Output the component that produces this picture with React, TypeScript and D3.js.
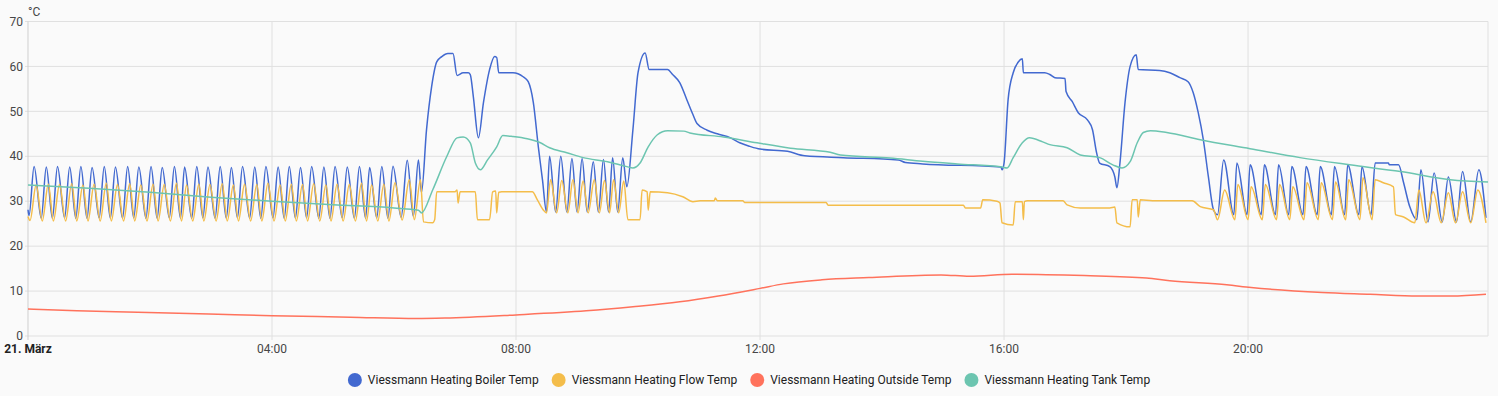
import React, { useRef, useEffect } from 'react';
import * as d3 from 'd3';

type Point = [number, number]; // [minutes since 00:00, °C]

// Viessmann Heating, 21. März
const boilerTemp: Point[] = [
  [0, 28.1], [1, 26.8], [6, 37.7], [13, 26.2], [18, 37.6], [24, 26.2], [29, 37.7], [36, 26.3], [41, 37.6], [47, 26.2],
  [52, 37.7], [58, 26.2], [63, 37.5], [70, 26.3], [75, 37.7], [81, 26.2], [86, 37.6], [93, 26.2], [98, 37.7], [104, 26.3],
  [109, 37.6], [116, 26.2], [121, 37.7], [127, 26.2], [132, 37.5], [139, 26.3], [144, 37.7], [150, 26.2], [154, 37.6], [161, 26.2],
  [166, 37.7], [172, 26.3], [177, 37.6], [184, 26.2], [189, 37.7], [195, 26.2], [200, 37.5], [206, 26.3], [211, 37.7], [218, 26.2],
  [223, 37.6], [229, 26.2], [234, 37.7], [241, 26.3], [246, 37.6], [252, 26.2], [257, 37.7], [263, 26.2], [268, 37.5], [274, 26.3],
  [279, 37.7], [286, 26.2], [291, 37.6], [297, 26.2], [302, 37.7], [309, 26.3], [314, 37.6], [321, 26.2], [326, 37.7], [332, 26.2],
  [336, 37.5], [343, 26.3], [348, 37.7], [354, 26.2], [359, 37.8], [367, 26.4], [373, 39.1], [379, 26.6], [384, 39.2], [387, 31.9],
  [392, 46.0], [397, 55.5], [402, 61.0], [407, 62.2], [413, 62.9], [418, 62.9], [422, 58.0], [428, 58.6], [433, 58.6], [435, 58.2],
  [438, 53.3], [443, 44.1], [448, 52.0], [454, 59.3], [459, 62.2], [461, 62.0], [463, 58.6], [477, 58.6], [487, 57.7], [492, 56.6],
  [497, 52.0], [502, 42.0], [506, 34.8], [510, 27.6], [513, 40.0], [519, 27.6], [524, 40.0], [530, 27.6], [535, 39.5], [540, 27.6],
  [545, 39.5], [550, 27.6], [556, 38.8], [561, 27.6], [566, 39.3], [571, 27.6], [575, 39.7], [580, 27.6], [585, 39.7], [589, 33.2],
  [595, 46.0], [600, 58.6], [607, 63.0], [611, 59.3], [629, 59.3], [634, 58.2], [641, 56.4], [648, 52.6], [654, 49.3], [658, 47.3],
  [668, 45.8], [678, 45.0], [691, 44.1], [700, 43.0], [710, 42.2], [720, 41.6], [747, 41.1], [764, 40.1], [802, 39.7], [856, 39.2],
  [863, 38.6], [880, 38.3], [957, 37.6], [958, 37.0], [960, 38.5], [964, 52.6], [969, 58.6], [974, 61.0], [978, 61.7], [979, 58.6],
  [1000, 58.6], [1005, 58.2], [1010, 57.5], [1020, 57.3], [1021, 54.4], [1027, 52.2], [1033, 49.7], [1042, 48.1], [1047, 45.9], [1051, 40.8],
  [1054, 38.5], [1064, 37.7], [1069, 35.4], [1071, 33.0], [1074, 38.5], [1079, 52.0], [1084, 60.0], [1090, 62.6], [1092, 59.3], [1113, 59.1],
  [1123, 58.6], [1133, 57.5], [1141, 56.6], [1146, 54.2], [1151, 49.7], [1156, 43.7], [1161, 35.4], [1166, 28.1], [1170, 27.0], [1176, 39.2],
  [1186, 27.0], [1189, 38.5], [1199, 27.0], [1202, 38.1], [1213, 27.0], [1216, 38.1], [1227, 27.0], [1230, 38.1], [1240, 27.0], [1243, 37.7],
  [1254, 27.0], [1257, 37.7], [1268, 27.0], [1271, 37.7], [1282, 27.0], [1285, 37.7], [1295, 27.0], [1298, 38.1], [1309, 27.0], [1312, 37.7],
  [1321, 27.0], [1325, 38.5], [1338, 38.5], [1339, 38.1], [1348, 38.1], [1353, 34.1], [1359, 28.8], [1366, 25.9], [1370, 37.0], [1377, 25.4],
  [1383, 36.3], [1391, 25.4], [1397, 35.4], [1405, 25.4], [1411, 36.6], [1419, 25.4], [1427, 37.0], [1434, 26.3],
];

const flowTemp: Point[] = [
  [0, 26.6], [2, 25.7], [8, 33.6], [14, 25.6], [20, 33.8], [25, 25.6], [31, 33.7], [37, 25.6], [43, 33.9], [48, 25.6],
  [54, 33.6], [59, 25.6], [65, 33.8], [71, 25.6], [77, 34.0], [82, 25.6], [88, 33.7], [94, 25.6], [100, 33.9], [105, 25.6],
  [111, 33.6], [117, 25.6], [123, 33.8], [128, 25.6], [134, 33.7], [140, 25.6], [146, 34.0], [151, 25.6], [156, 33.6], [162, 25.6],
  [168, 33.8], [173, 25.6], [179, 33.7], [185, 25.6], [191, 33.9], [196, 25.6], [202, 33.6], [207, 25.6], [213, 33.8], [219, 25.6],
  [225, 33.7], [230, 25.6], [236, 34.0], [242, 25.6], [248, 33.6], [253, 25.6], [259, 33.8], [264, 25.6], [270, 33.7], [275, 25.6],
  [281, 33.9], [287, 25.6], [293, 33.6], [298, 25.6], [304, 33.8], [310, 25.6], [316, 33.7], [322, 25.6], [328, 34.0], [333, 25.6],
  [338, 33.6], [344, 25.6], [350, 33.8], [355, 25.6], [361, 34.1], [368, 25.8], [375, 34.8], [380, 25.9], [386, 34.8], [389, 25.4],
  [398, 25.2], [400, 25.9], [402, 32.1], [420, 32.1], [422, 32.5], [423, 29.6], [425, 32.1], [440, 32.1], [442, 25.9], [454, 25.9],
  [457, 32.1], [460, 32.3], [461, 27.4], [463, 32.0], [466, 32.1], [496, 32.1], [501, 30.3], [507, 28.0], [510, 27.4], [514, 34.8],
  [520, 27.4], [525, 34.6], [531, 27.4], [536, 34.8], [541, 27.4], [546, 34.5], [551, 27.4], [557, 34.8], [562, 27.4], [567, 34.6],
  [572, 27.4], [576, 34.8], [581, 27.4], [586, 34.5], [590, 25.9], [602, 25.9], [604, 32.5], [609, 32.1], [610, 28.0], [612, 32.1],
  [629, 31.9], [644, 31.0], [654, 29.9], [661, 30.1], [675, 30.1], [676, 30.7], [678, 30.1], [703, 30.1], [705, 29.7], [785, 29.7],
  [787, 29.1], [920, 29.1], [922, 28.5], [937, 28.5], [939, 30.3], [953, 30.0], [956, 29.6], [958, 25.2], [969, 24.7], [971, 29.9],
  [978, 29.9], [979, 25.9], [980, 29.9], [983, 30.1], [1018, 30.1], [1022, 29.2], [1035, 28.5], [1064, 28.5], [1069, 28.7], [1071, 25.2],
  [1084, 24.3], [1086, 30.3], [1091, 30.3], [1092, 26.5], [1094, 30.3], [1106, 30.1], [1145, 30.1], [1153, 28.8], [1166, 28.1], [1170, 25.9],
  [1177, 32.5], [1187, 25.9], [1190, 33.7], [1200, 25.9], [1203, 33.2], [1214, 25.9], [1217, 33.7], [1228, 25.9], [1231, 33.7], [1241, 25.9],
  [1244, 33.2], [1255, 25.9], [1258, 34.1], [1269, 25.9], [1272, 34.1], [1283, 25.9], [1286, 34.3], [1296, 25.9], [1299, 34.8], [1310, 25.9],
  [1313, 35.2], [1322, 25.9], [1325, 34.8], [1333, 34.1], [1343, 33.2], [1345, 27.0], [1353, 26.5], [1364, 25.2], [1368, 32.5], [1375, 25.2],
  [1382, 32.1], [1390, 25.2], [1397, 31.9], [1404, 25.2], [1411, 32.1], [1419, 25.2], [1426, 32.5], [1434, 25.2],
];

const outsideTemp: Point[] = [
  [0, 6.0], [48, 5.6], [108, 5.3], [178, 4.9], [240, 4.5], [317, 4.2], [382, 3.9], [410, 4.0], [480, 4.7], [549, 5.6],
  [595, 6.5], [641, 7.6], [679, 8.9], [720, 10.6], [743, 11.6], [781, 12.5], [827, 13.0], [898, 13.6], [926, 13.3], [968, 13.75],
  [1039, 13.45], [1100, 12.9], [1123, 12.3], [1179, 11.4], [1203, 10.8], [1273, 9.7], [1320, 9.3], [1367, 8.9], [1400, 8.9], [1434, 9.3],
];

const tankTemp: Point[] = [
  [0, 33.6], [60, 32.9], [120, 32.0], [180, 30.9], [240, 30.0], [300, 29.2], [360, 28.5], [384, 28.0], [387, 27.4], [398, 32.5],
  [412, 40.0], [422, 44.1], [428, 44.3], [435, 43.0], [440, 38.5], [445, 37.0], [452, 39.2], [461, 42.1], [467, 44.6], [477, 44.4],
  [491, 43.9], [504, 43.0], [513, 41.9], [530, 40.8], [546, 39.7], [570, 38.8], [589, 37.7], [595, 37.4], [602, 38.5], [610, 42.1],
  [619, 44.8], [629, 45.7], [645, 45.6], [651, 45.2], [684, 44.3], [717, 43.0], [750, 41.8], [789, 40.9], [799, 40.3], [848, 39.6],
  [880, 38.9], [914, 38.3], [958, 37.6], [963, 37.4], [969, 39.7], [978, 43.0], [985, 44.1], [998, 43.2], [1005, 42.6], [1022, 41.9],
  [1035, 40.3], [1054, 39.7], [1067, 38.1], [1076, 37.4], [1084, 38.8], [1091, 43.0], [1097, 45.3], [1104, 45.7], [1120, 45.3], [1153, 43.7],
  [1202, 41.7], [1251, 39.7], [1300, 38.1], [1350, 36.6], [1399, 34.8], [1436, 34.3],
];

const seriesNames = [
  'Viessmann Heating Boiler Temp',
  'Viessmann Heating Flow Temp',
  'Viessmann Heating Outside Temp',
  'Viessmann Heating Tank Temp',
];
const seriesColors = ['#4269d0', '#f4bd4a', '#ff725c', '#6cc5b0'];
const seriesData = [boilerTemp, flowTemp, outsideTemp, tankTemp];

const yTicks = [0, 10, 20, 30, 40, 50, 60, 70];
const xTickMinutes = [0, 240, 480, 720, 960, 1200];
const xTickLabels = ['21. März', '04:00', '08:00', '12:00', '16:00', '20:00'];

const App: React.FC = () => {
  const svgRef = useRef<SVGSVGElement | null>(null);

  useEffect(() => {
    if (!svgRef.current) return;
    d3.select(svgRef.current).selectAll('*').remove();

    const width = 1498;
    const height = 396;
    const margin = { top: 21.5, right: 10, bottom: 60, left: 28 };

    const svg = d3
      .select(svgRef.current)
      .attr('width', width)
      .attr('height', height)
      .style('font-family', 'Roboto, sans-serif');

    svg.append('rect').attr('width', width).attr('height', height).attr('fill', '#fafafa');

    const xScale = d3.scaleLinear().domain([0, 1436]).range([margin.left, width - margin.right]);
    const yScale = d3.scaleLinear().domain([0, 70]).range([height - margin.bottom, margin.top]);

    // horizontal grid
    svg
      .append('g')
      .selectAll('line')
      .data(yTicks)
      .join('line')
      .attr('x1', margin.left - 3)
      .attr('x2', width - margin.right)
      .attr('y1', (d) => yScale(d))
      .attr('y2', (d) => yScale(d))
      .attr('stroke', '#e0e0e0')
      .attr('stroke-width', 1);

    // vertical grid
    svg
      .append('g')
      .selectAll('line')
      .data(xTickMinutes.slice(1))
      .join('line')
      .attr('x1', (d) => xScale(d))
      .attr('x2', (d) => xScale(d))
      .attr('y1', margin.top)
      .attr('y2', height - margin.bottom + 4)
      .attr('stroke', '#e0e0e0');

    // left axis + right border
    svg
      .append('line')
      .attr('x1', margin.left)
      .attr('x2', margin.left)
      .attr('y1', margin.top)
      .attr('y2', height - margin.bottom + 4)
      .attr('stroke', '#cfcfcf');
    svg
      .append('line')
      .attr('x1', width - margin.right)
      .attr('x2', width - margin.right)
      .attr('y1', margin.top)
      .attr('y2', height - margin.bottom)
      .attr('stroke', '#e0e0e0');

    // y labels
    svg
      .append('g')
      .selectAll('text')
      .data(yTicks)
      .join('text')
      .attr('x', margin.left - 5)
      .attr('y', (d) => yScale(d))
      .attr('dy', '0.35em')
      .attr('text-anchor', 'end')
      .attr('font-size', 12)
      .attr('fill', '#464646')
      .text((d) => d);

    svg
      .append('text')
      .attr('x', margin.left)
      .attr('y', 16)
      .attr('font-size', 12)
      .attr('fill', '#464646')
      .text('°C');

    // x labels
    svg
      .append('g')
      .selectAll('text')
      .data(xTickMinutes)
      .join('text')
      .attr('x', (d) => xScale(d))
      .attr('y', 353)
      .attr('text-anchor', 'middle')
      .attr('font-size', 12)
      .attr('font-weight', (d, i) => (i === 0 ? 'bold' : 'normal'))
      .attr('fill', (d, i) => (i === 0 ? '#212121' : '#464646'))
      .text((d, i) => xTickLabels[i]);

    // lines
    const line = d3
      .line<Point>()
      .x((d) => xScale(d[0]))
      .y((d) => yScale(d[1]))
      .curve(d3.curveMonotoneX);

    svg
      .append('g')
      .selectAll('path')
      .data(seriesData)
      .join('path')
      .attr('d', (d) => line(d))
      .attr('fill', 'none')
      .attr('stroke', (d, i) => seriesColors[i])
      .attr('stroke-width', 1.5)
      .attr('stroke-linejoin', 'round');

    // legend
    const legend = svg.append('g');
    let offset = 0;
    seriesNames.forEach((name, i) => {
      const item = legend.append('g').attr('transform', `translate(${offset},0)`);
      item.append('circle').attr('cx', 7).attr('cy', 380).attr('r', 7).attr('fill', seriesColors[i]);
      const t = item
        .append('text')
        .attr('x', 20)
        .attr('y', 384)
        .attr('font-size', 12)
        .attr('fill', '#212121')
        .text(name);
      const w = (t.node() as SVGTextElement).getComputedTextLength();
      offset += 20 + w + 13;
    });
    const total = offset - 13;
    legend.attr('transform', `translate(${width / 2 - total / 2},0)`);
  }, []);

  return <svg ref={svgRef} style={{ position: 'absolute', left: 0, top: 0 }}></svg>;
};

export default App;
